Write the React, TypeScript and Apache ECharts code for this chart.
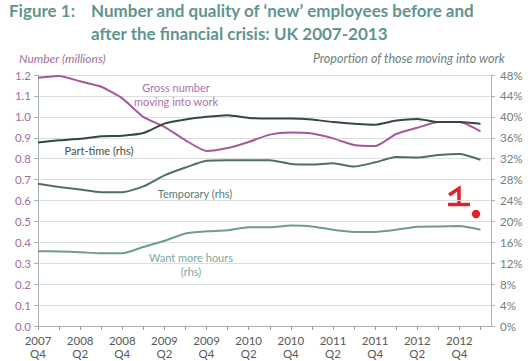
import React, { useEffect, useRef } from "react";
import * as echarts from "echarts";

const quarters = [
  "2007\nQ4", "2008\nQ1", "2008\nQ2", "2008\nQ3", "2008\nQ4", "2009\nQ1", "2009\nQ2", "2009\nQ3",
  "2009\nQ4", "2010\nQ1", "2010\nQ2", "2010\nQ3", "2010\nQ4", "2011\nQ1", "2011\nQ2", "2011\nQ3",
  "2011\nQ4", "2012\nQ1", "2012\nQ2", "2012\nQ3", "2012\nQ4", "2013\nQ1",
];
const grossMillions = [1.187, 1.195, 1.17, 1.144, 1.088, 1.0, 0.952, 0.888, 0.837, 0.851, 0.88, 0.915, 0.925, 0.92, 0.897, 0.865, 0.86, 0.918, 0.948, 0.975, 0.975, 0.93];
const partTimePct = [35.1, 35.5, 35.8, 36.3, 36.4, 36.9, 38.7, 39.5, 40.0, 40.3, 39.8, 39.7, 39.7, 39.5, 39.0, 38.7, 38.5, 39.3, 39.6, 39.0, 39.0, 38.7];
const temporaryPct = [27.2, 26.6, 26.1, 25.6, 25.6, 26.7, 28.8, 30.3, 31.6, 31.7, 31.7, 31.7, 31.0, 30.9, 31.1, 30.5, 31.3, 32.3, 32.2, 32.7, 32.9, 31.8];
const wantMoreHoursPct = [14.3, 14.25, 14.1, 13.9, 13.9, 15.1, 16.3, 17.7, 18.1, 18.3, 18.9, 18.9, 19.2, 19.05, 18.4, 18.0, 18.0, 18.4, 19.0, 19.05, 19.1, 18.4];

const FONT = "Lato, 'Open Sans', sans-serif";

const pairs = (arr: number[]) => arr.map((v, i) => [i, v]);

export default function App() {
  const ref = useRef<HTMLDivElement>(null);
  useEffect(() => {
    if (!ref.current) return;
    const chart = echarts.init(ref.current, null, { renderer: "svg" });
    const tickVals = quarters.map((_, i) => i);
    const labelVals = tickVals.filter((i) => i % 2 === 0);
    chart.setOption({
      animation: false,
      backgroundColor: "#ffffff",
      grid: { left: 38, right: 40, top: 75, bottom: 35, containLabel: false },
      xAxis: {
        type: "value",
        min: 0,
        max: 21.5,
        interval: 1,
        splitLine: { show: false },
        axisLine: { show: true, lineStyle: { color: "#a6b3b2", width: 1 } },
        axisTick: { show: true, length: 4, customValues: tickVals, lineStyle: { color: "#8e9b9a" } },
        axisLabel: {
          customValues: labelVals,
          formatter: (v: number) => quarters[Math.round(v)] ?? "",
          color: "#595959",
          fontFamily: FONT,
          fontSize: 11.5,
          lineHeight: 13,
          margin: 8,
        },
      },
      yAxis: [
        {
          type: "value",
          min: 0,
          max: 1.2,
          interval: 0.1,
          position: "left",
          axisLine: { show: true, lineStyle: { color: "#a6b3b2" } },
          axisTick: { show: true, length: 4, lineStyle: { color: "#a6b3b2" } },
          splitLine: { show: true, lineStyle: { color: "#d9dede", width: 1 } },
          axisLabel: {
            formatter: (v: number) => v.toFixed(1),
            color: "#a0709a",
            fontFamily: FONT,
            fontSize: 11.5,
            margin: 7,
          },
        },
        {
          type: "value",
          min: 0,
          max: 48,
          interval: 4,
          position: "right",
          axisLine: { show: true, lineStyle: { color: "#a6b8b6" } },
          axisTick: { show: true, length: 4, lineStyle: { color: "#a6b8b6" } },
          splitLine: { show: false },
          axisLabel: {
            formatter: (v: number) => `${v}%`,
            color: "#6f7f7e",
            fontFamily: FONT,
            fontSize: 11.5,
            margin: 9,
          },
        },
      ],
      series: [
        {
          name: "Gross number moving into work",
          type: "line",
          yAxisIndex: 0,
          data: pairs(grossMillions),
          showSymbol: false,
          smooth: 0.2,
          lineStyle: { color: "#a9579c", width: 2 },
          itemStyle: { color: "#a9579c" },
        },
        {
          name: "Part-time (rhs)",
          type: "line",
          yAxisIndex: 1,
          data: pairs(partTimePct),
          showSymbol: false,
          smooth: 0.2,
          lineStyle: { color: "#34483f", width: 2 },
        },
        {
          name: "Temporary (rhs)",
          type: "line",
          yAxisIndex: 1,
          data: pairs(temporaryPct),
          showSymbol: false,
          smooth: 0.2,
          lineStyle: { color: "#4f6e67", width: 2 },
        },
        {
          name: "Want more hours (rhs)",
          type: "line",
          yAxisIndex: 1,
          data: pairs(wantMoreHoursPct),
          showSymbol: false,
          smooth: 0.2,
          lineStyle: { color: "#6e9b96", width: 2 },
        },
      ],
      graphic: [
        { type: "text", left: 9, top: 2, style: { text: "Figure 1:", fill: "#5f9590", font: `bold 17px ${FONT}` } },
        { type: "text", left: 91, top: 2, style: { text: "Number and quality of \u2018new\u2019 employees before and", fill: "#5f9590", font: `bold 17px ${FONT}` } },
        { type: "text", left: 91, top: 25, style: { text: "after the financial crisis: UK 2007-2013", fill: "#5f9590", font: `bold 17px ${FONT}` } },
        { type: "text", left: 19, top: 52, style: { text: "Number (millions)", fill: "#a0709a", font: `italic 12px ${FONT}` } },
        { type: "text", right: 26, top: 52, style: { text: "Proportion of those moving into work", fill: "#6f7f7e", font: `italic 12.5px ${FONT}` } },
        { type: "text", x: 176, y: 87, style: { text: "Gross number", fill: "#b070a6", font: `11px ${FONT}`, align: "center", verticalAlign: "middle" } },
        { type: "text", x: 176, y: 101, style: { text: "moving into work", fill: "#b070a6", font: `11px ${FONT}`, align: "center", verticalAlign: "middle" } },
        { type: "text", x: 99, y: 150, style: { text: "Part-time (rhs)", fill: "#3d4f4a", font: `11px ${FONT}`, align: "center", verticalAlign: "middle" } },
        { type: "text", x: 195, y: 193, style: { text: "Temporary (rhs)", fill: "#5a7a74", font: `11px ${FONT}`, align: "center", verticalAlign: "middle" } },
        { type: "text", x: 191, y: 257, style: { text: "Want more hours", fill: "#7ea7a3", font: `11px ${FONT}`, align: "center", verticalAlign: "middle" } },
        { type: "text", x: 191, y: 271, style: { text: "(rhs)", fill: "#7ea7a3", font: `11px ${FONT}`, align: "center", verticalAlign: "middle" } },
        { type: "polyline", shape: { points: [[449, 195], [459, 188.5], [459, 204]] }, style: { stroke: "#e3202a", lineWidth: 3.5, fill: "none" } },
        { type: "line", shape: { x1: 448, y1: 204.5, x2: 470, y2: 204.5 }, style: { stroke: "#e3202a", lineWidth: 3.5 } },
        { type: "circle", shape: { cx: 476, cy: 214, r: 4.2 }, style: { fill: "#e3202a" } },
      ],
    });
    return () => chart.dispose();
  }, []);
  return <div ref={ref} style={{ position: "fixed", left: 0, top: 0, width: 531, height: 361 }} />;
}
